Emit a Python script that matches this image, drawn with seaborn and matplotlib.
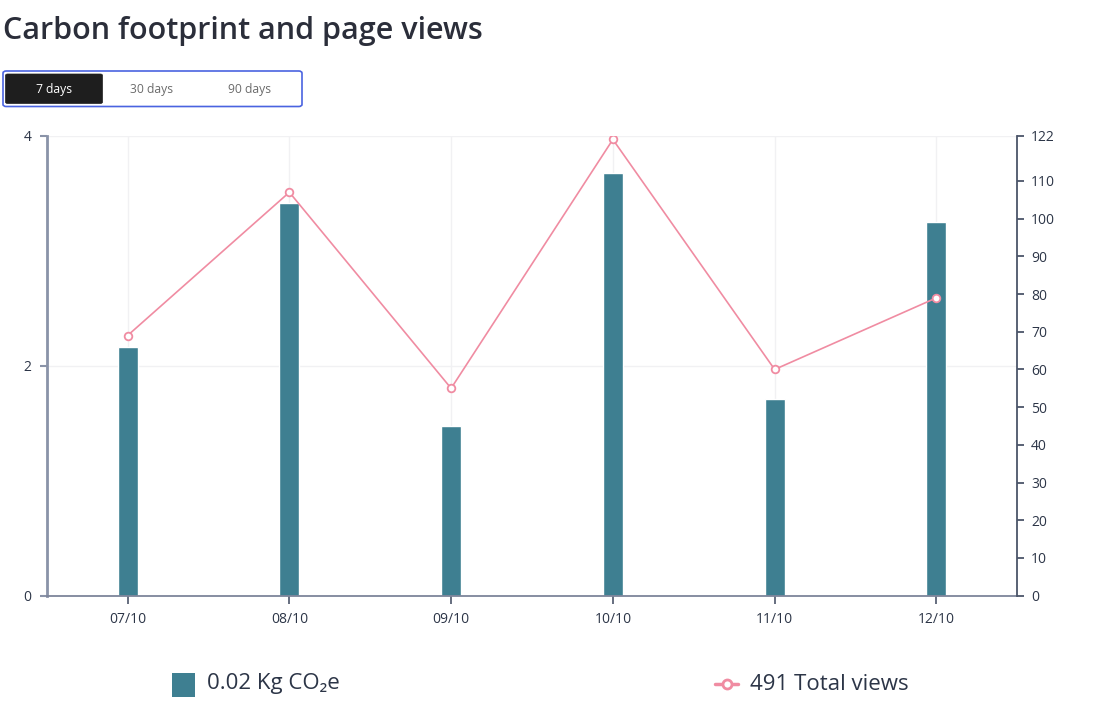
import matplotlib
matplotlib.use("Agg")
import matplotlib.pyplot as plt
import seaborn as sns
import pandas as pd
import numpy as np
from matplotlib.patches import FancyBboxPatch, Rectangle
from matplotlib.lines import Line2D

# ---- data ----
dates = ["07/10", "08/10", "09/10", "10/10", "11/10", "12/10"]
carbon = [2.165, 3.415, 1.476, 3.673, 1.710, 3.247]
views = [69, 107, 55, 121, 60, 79]
left_ticks = [0, 2, 4]
right_ticks = [0, 10, 20, 30, 40, 50, 60, 70, 80, 90, 100, 110, 122]
title = "Carbon footprint and page views"
buttons = ["7 days", "30 days", "90 days"]
legend_carbon = "0.02 Kg CO\u2082e"
legend_views = "491 Total views"

df = pd.DataFrame({"date": dates, "carbon": carbon, "views": views})

sns.set_theme(style="white")
plt.rcParams["font.family"] = ["Open Sans", "DejaVu Sans"]

BAR = "#3e7f91"
PINK = "#f08ca2"
TXT = "#2c3547"

W, H = 1093, 710
fig = plt.figure(figsize=(W / 100, H / 100), dpi=100)
fig.patch.set_facecolor("white")

def fx(px):
    return px / W

def fy(py):
    return 1 - py / H

ax = fig.add_axes([fx(46.7), fy(595.7), fx(1017.3 - 46.7), (595.7 - 135.7) / H])
sns.barplot(data=df, x="date", y="carbon", color=BAR, width=0.124, ax=ax,
            saturation=1, zorder=2)
ax.set_xlim(-0.5, len(dates) - 0.5)
ax.set_ylim(0, 4)
ax.set_yticks(left_ticks)
ax.set_xlabel("")
ax.set_ylabel("")
ax.grid(True, axis="both", color="#f1f1f3", linewidth=1, zorder=0)
ax.set_axisbelow(True)
for s in ["top", "right"]:
    ax.spines[s].set_visible(False)
ax.spines["left"].set_color("#8a93a8")
ax.spines["left"].set_linewidth(2)
ax.spines["bottom"].set_color("#7d859a")
ax.spines["bottom"].set_linewidth(1.3)
ax.tick_params(axis="y", which="both", left=True, length=5, width=1.5,
               color="#8a93a8", pad=6, labelsize=10, labelcolor=TXT)
ax.tick_params(axis="x", which="both", bottom=True, length=6, width=1.2,
               color="#4b5569", pad=6, labelsize=10, labelcolor=TXT)

ax2 = ax.twinx()
sns.lineplot(data=df, x="date", y="views", ax=ax2, color=PINK, linewidth=1.2,
             marker="o", markersize=5.5, markerfacecolor="white",
             markeredgecolor=PINK, markeredgewidth=1.3, zorder=5)
ax2.set_ylim(0, 122)
ax2.set_yticks(right_ticks)
ax2.set_xlim(-0.5, len(dates) - 0.5)
ax2.set_ylabel("")
ax2.set_xlabel("")
ax2.grid(False)
for s in ["top", "left", "bottom"]:
    ax2.spines[s].set_visible(False)
ax2.spines["right"].set_color("#4b5569")
ax2.spines["right"].set_linewidth(1.3)
ax2.tick_params(axis="y", which="both", right=True, length=5, width=1.3,
                color="#4b5569", pad=5, labelsize=10, labelcolor=TXT)

# ---- title ----
fig.text(fx(3), fy(31), title, fontsize=22, fontweight="semibold",
         color="#2b2e3a", ha="left", va="center")

# ---- button group ----
fig.add_artist(FancyBboxPatch((fx(3), fy(106.5)), fx(299), (106.5 - 71) / H,
                              boxstyle="round,pad=0,rounding_size=0.003",
                              transform=fig.transFigure, facecolor="white",
                              edgecolor="#4a63e0", linewidth=1.2))
fig.add_artist(FancyBboxPatch((fx(5.5), fy(103.5)), fx(97), (103.5 - 74) / H,
                              boxstyle="round,pad=0,rounding_size=0.002",
                              transform=fig.transFigure, facecolor="#1e1e1e",
                              edgecolor="#1e1e1e", linewidth=0.5))
for label, cx, col in zip(buttons, [54, 152, 250], ["white", "#6b6b6b", "#6b6b6b"]):
    fig.text(fx(cx), fy(90), label, fontsize=8.7, color=col, ha="center", va="center")

# ---- legend ----
fig.add_artist(Rectangle((fx(172), fy(697)), fx(23), 24 / H, transform=fig.transFigure,
                         facecolor=BAR, edgecolor="none"))
fig.text(fx(207), fy(684), legend_carbon, fontsize=16, color=TXT, ha="left", va="center")
fig.add_artist(Line2D([fx(715), fx(738)], [fy(684), fy(684)], transform=fig.transFigure,
                      color=PINK, linewidth=2.5))
fig.add_artist(Line2D([fx(726.5)], [fy(684)], transform=fig.transFigure, marker="o",
                      markersize=6.5, markerfacecolor="white", markeredgecolor=PINK,
                      markeredgewidth=2, linestyle="none"))
fig.text(fx(750), fy(684), legend_views, fontsize=16, color=TXT, ha="left", va="center")

fig.savefig("out.png", dpi=100, facecolor="white")
